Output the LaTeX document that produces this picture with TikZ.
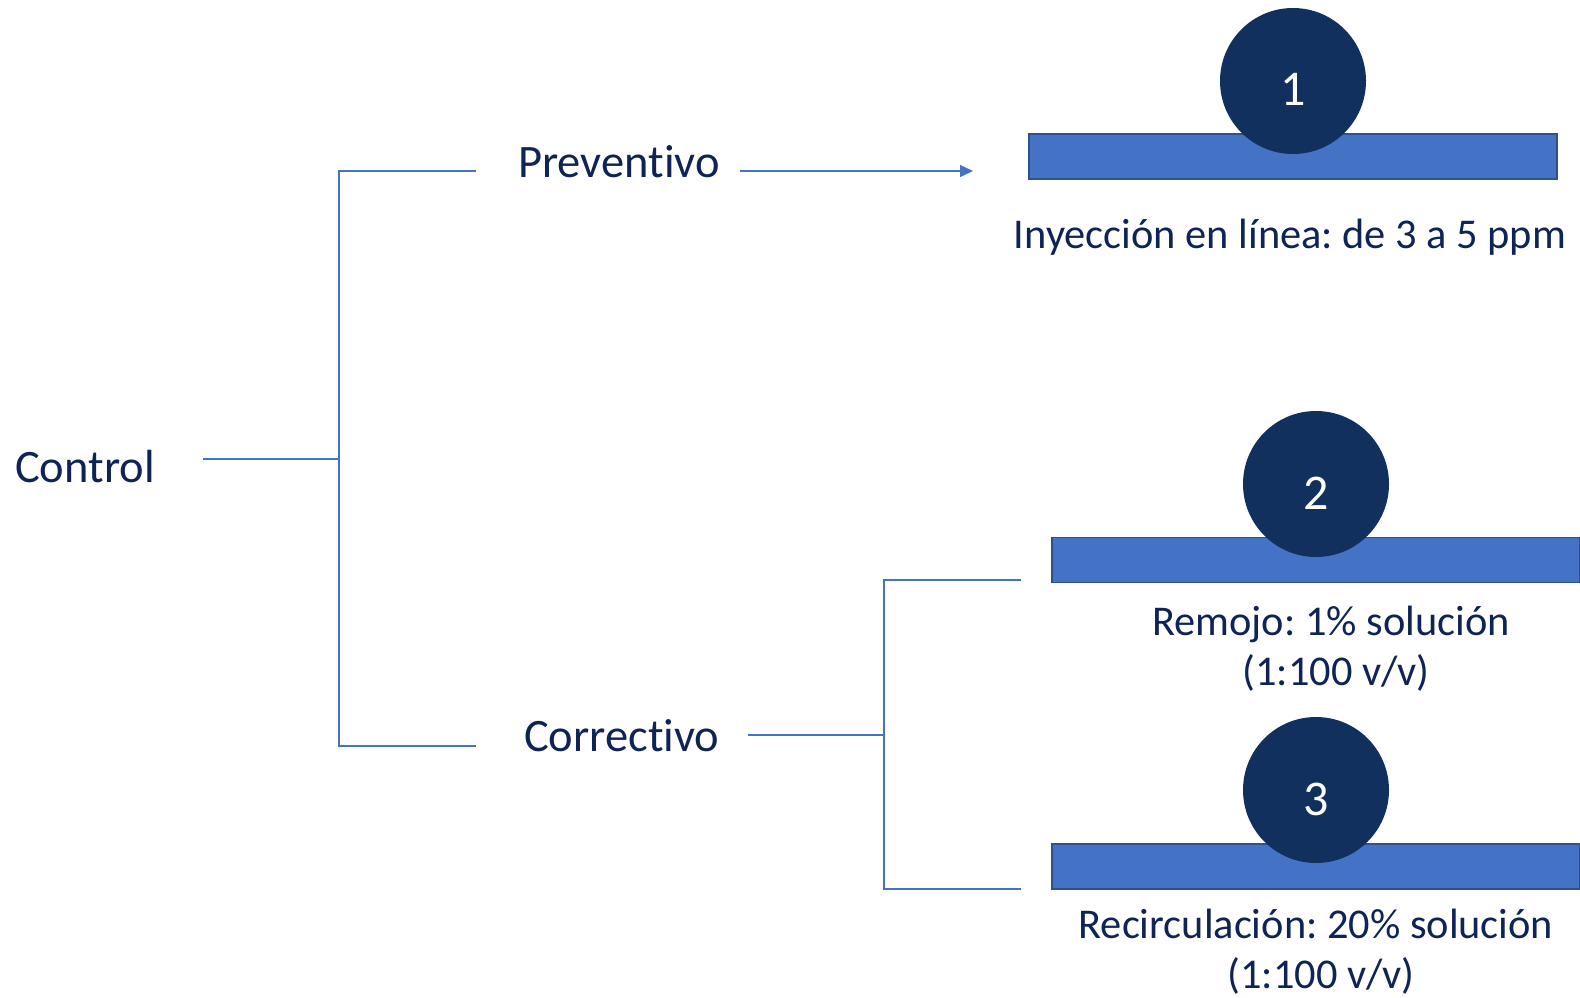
\documentclass[tikz,border=0pt]{standalone}
\usepackage{fontspec}
\setmainfont[Ligatures=NoCommon]{Carlito}
\usetikzlibrary{arrows.meta}
\definecolor{navy}{HTML}{12305E}
\definecolor{txt}{HTML}{0E2356}
\definecolor{blu}{HTML}{4472C4}
\definecolor{bord}{HTML}{2F528F}
\frenchspacing
\begin{document}
\frenchspacing
\begin{tikzpicture}[x=1pt,y=-1pt,
  lbl/.style={text=txt,font=\fontsize{46.5}{54}\selectfont,inner sep=0},
  sub/.style={text=txt,font=\fontsize{42.4}{50}\selectfont,inner sep=0},
  bar/.style={draw=bord,line width=1.5pt,fill=blu,minimum width=528pt,minimum height=45pt,inner sep=0},
  num/.style={circle,fill=navy,minimum size=146pt,inner sep=0,text=white,font=\fontsize{50}{58}\selectfont,text height=50pt,text depth=0pt},
  conn/.style={draw=blu,line width=1.3pt}]
\useasboundingbox (0,0) rectangle (1580,998);

% labels
\node[lbl,anchor=base west] (ctrl) at (15,482) {Control};
\node[lbl,anchor=base west] (prev) at (518,177) {Preventivo};
\node[lbl,anchor=base west] (corr) at (524,751) {Correctivo};

% bars and circles
\node[bar] (bar1) at (1293,156.5) {};
\node[bar] (bar2) at (1316,560) {};
\node[bar] (bar3) at (1316,866.5) {};
\node[num] (c1) at (1293,81) {1};
\node[num] (c2) at (1316,484) {2};
\node[num] (c3) at (1316,790) {3};

% descriptions
\node[sub,anchor=base] (d1) at (1290,248) {Inyección en línea: de 3 a 5 ppm};
\node[sub,anchor=base] (d2a) at (1331,635) {Remojo: 1\% solución};
\node[sub,anchor=base] (d2b) at (1336,685) {(1:100 v/v)};
\node[sub,anchor=base] (d3a) at (1316,938) {Recirculación: 20\% solución};
\node[sub,anchor=base] (d3b) at (1321,988) {(1:100 v/v)};

% connector points
\coordinate (c0) at (203,459);
\coordinate (j1) at (339,459);
\coordinate (jt) at (339,171);
\coordinate (jb) at (339,746);
\coordinate (pt) at (476,171);
\coordinate (pb) at (476,746);
\coordinate (a0) at (740,171);
\coordinate (a1) at (973,171);
\coordinate (k0) at (748,735);
\coordinate (k1) at (884,735);
\coordinate (kt) at (884,580);
\coordinate (kb) at (884,889);
\coordinate (bt) at (1021,580);
\coordinate (bb) at (1021,889);

\draw[conn] (c0) -- (j1);
\draw[conn] (pt) -- (jt) -- (jb) -- (pb);
\draw[conn,-{Triangle[length=13pt,width=12pt]}] (a0) -- (a1);
\draw[conn] (k0) -- (k1);
\draw[conn] (bt) -- (kt) -- (kb) -- (bb);
\end{tikzpicture}
\end{document}
